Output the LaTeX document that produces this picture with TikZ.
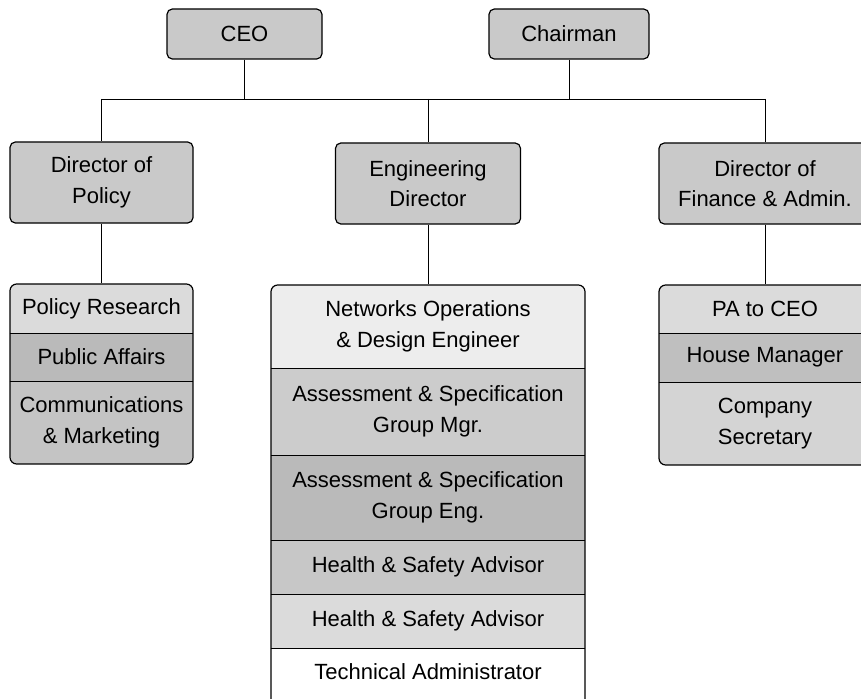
\documentclass[tikz,border=0pt]{standalone}
\usepackage{fontspec}
\setmainfont{Liberation Sans}
\definecolor{hdr}{gray}{0.79}
\definecolor{gA}{gray}{0.86}
\definecolor{gB}{gray}{0.73}
\definecolor{gC}{gray}{0.77}
\definecolor{gN}{gray}{0.93}
\definecolor{gM}{gray}{0.80}
\definecolor{gE}{gray}{0.73}
\definecolor{gH}{gray}{0.78}
\definecolor{gI}{gray}{0.86}
\definecolor{gP}{gray}{0.86}
\definecolor{gQ}{gray}{0.75}
\definecolor{gS}{gray}{0.83}
\begin{document}
\begin{tikzpicture}[x=0.75pt,y=-0.75pt,
  txt/.style={font=\fontsize{16.5}{23}\selectfont, align=center, text=black},
  head/.style={txt, draw=black, line width=0.9pt, rounded corners=4pt, fill=hdr, inner sep=0pt},
  row/.style={txt, inner sep=0pt, draw=none},
  frame/.style={draw=black, line width=0.9pt, rounded corners=5pt, inner sep=0pt},
  link/.style={draw=black, line width=0.65pt},
  divider/.style={draw=black, line width=0.9pt}]
\useasboundingbox (0,0) rectangle (861,699);
\clip (0,0) rectangle (861,699);

% top level
\node[head, minimum width=116.25pt, minimum height=37.5pt] (ceo) at (244.5,34) {CEO};
\node[head, minimum width=120pt, minimum height=37.5pt] (chair) at (569,34) {Chairman};

% directors
\node[head, minimum width=137.25pt, minimum height=60.75pt] (dpol) at (101.5,182.5) {Director of\\Policy};
\node[head, minimum width=138.75pt, minimum height=60.75pt] (deng) at (428,183.5) {Engineering\\Director};
\node[head, minimum width=159pt, minimum height=60.75pt] (dfin) at (765,183.5) {Director of\\Finance \& Admin.};

% junctions
\coordinate (jl) at (101.5,99);
\coordinate (jr) at (765,99);
\draw[link] (ceo.south) -- (ceo.south |- jl);
\draw[link] (chair.south) -- (chair.south |- jl);
\draw[link] (jl) -- (jr);
\draw[link] (jl) -- (dpol.north);
\draw[link] (deng.north |- jl) -- (deng.north);
\draw[link] (jr) -- (dfin.north);

% policy stack
\begin{scope}
\clip[rounded corners=5pt] (10,284) rectangle (193,464);
\node[row, fill=gA, minimum width=137.25pt, minimum height=36.75pt] (pr) at (101.5,308.5) {Policy Research};
\node[row, fill=gB, minimum width=137.25pt, minimum height=36pt] (pa) at (101.5,357) {Public Affairs};
\node[row, fill=gC, minimum width=137.25pt, minimum height=62.25pt] (cm) at (101.5,422.5) {Communications\\\& Marketing};
\end{scope}
\draw[divider] (pr.south west) -- (pr.south east);
\draw[divider] (pa.south west) -- (pa.south east);
\node[frame, minimum width=137.25pt, minimum height=135pt] (pstack) at (101.5,374) {};
\draw[link] (dpol.south) -- (pstack.north);

% engineering stack
\begin{scope}
\clip[rounded corners=5pt] (271,285) rectangle (585,730);
\node[row, fill=gN, minimum width=235.5pt, minimum height=62.25pt] (ne) at (428,326.5) {Networks Operations\\\& Design Engineer};
\node[row, fill=gM, minimum width=235.5pt, minimum height=65.25pt] (am) at (428,411.5) {Assessment \& Specification\\Group Mgr.};
\node[row, fill=gE, minimum width=235.5pt, minimum height=63.75pt] (ae) at (428,497.5) {Assessment \& Specification\\Group Eng.};
\node[row, fill=gH, minimum width=235.5pt, minimum height=40.5pt] (hs1) at (428,567) {Health \& Safety Advisor};
\node[row, fill=gI, minimum width=235.5pt, minimum height=40.5pt] (hs2) at (428,621) {Health \& Safety Advisor};
\node[row, fill=white, minimum width=235.5pt, minimum height=36pt] (ta) at (428,672) {Technical Administrator};
\end{scope}
\draw[divider] (ne.south west) -- (ne.south east);
\draw[divider] (am.south west) -- (am.south east);
\draw[divider] (ae.south west) -- (ae.south east);
\draw[divider] (hs1.south west) -- (hs1.south east);
\draw[divider] (hs2.south west) -- (hs2.south east);
\node[frame, minimum width=235.5pt, minimum height=333.75pt] (estack) at (428,507.5) {};
\draw[link] (deng.south) -- (estack.north);

% finance stack
\begin{scope}
\clip[rounded corners=5pt] (659,285) rectangle (871,465);
\node[row, fill=gP, minimum width=159pt, minimum height=36pt] (pac) at (765,309) {PA to CEO};
\node[row, fill=gQ, minimum width=159pt, minimum height=36.75pt] (hm) at (765,357.5) {House Manager};
\node[row, fill=gS, minimum width=159pt, minimum height=62.25pt] (cs) at (765,423.5) {Company\\Secretary};
\end{scope}
\draw[divider] (pac.south west) -- (pac.south east);
\draw[divider] (hm.south west) -- (hm.south east);
\node[frame, minimum width=159pt, minimum height=135pt] (fstack) at (765,375) {};
\draw[link] (dfin.south) -- (fstack.north);
\end{tikzpicture}
\end{document}
